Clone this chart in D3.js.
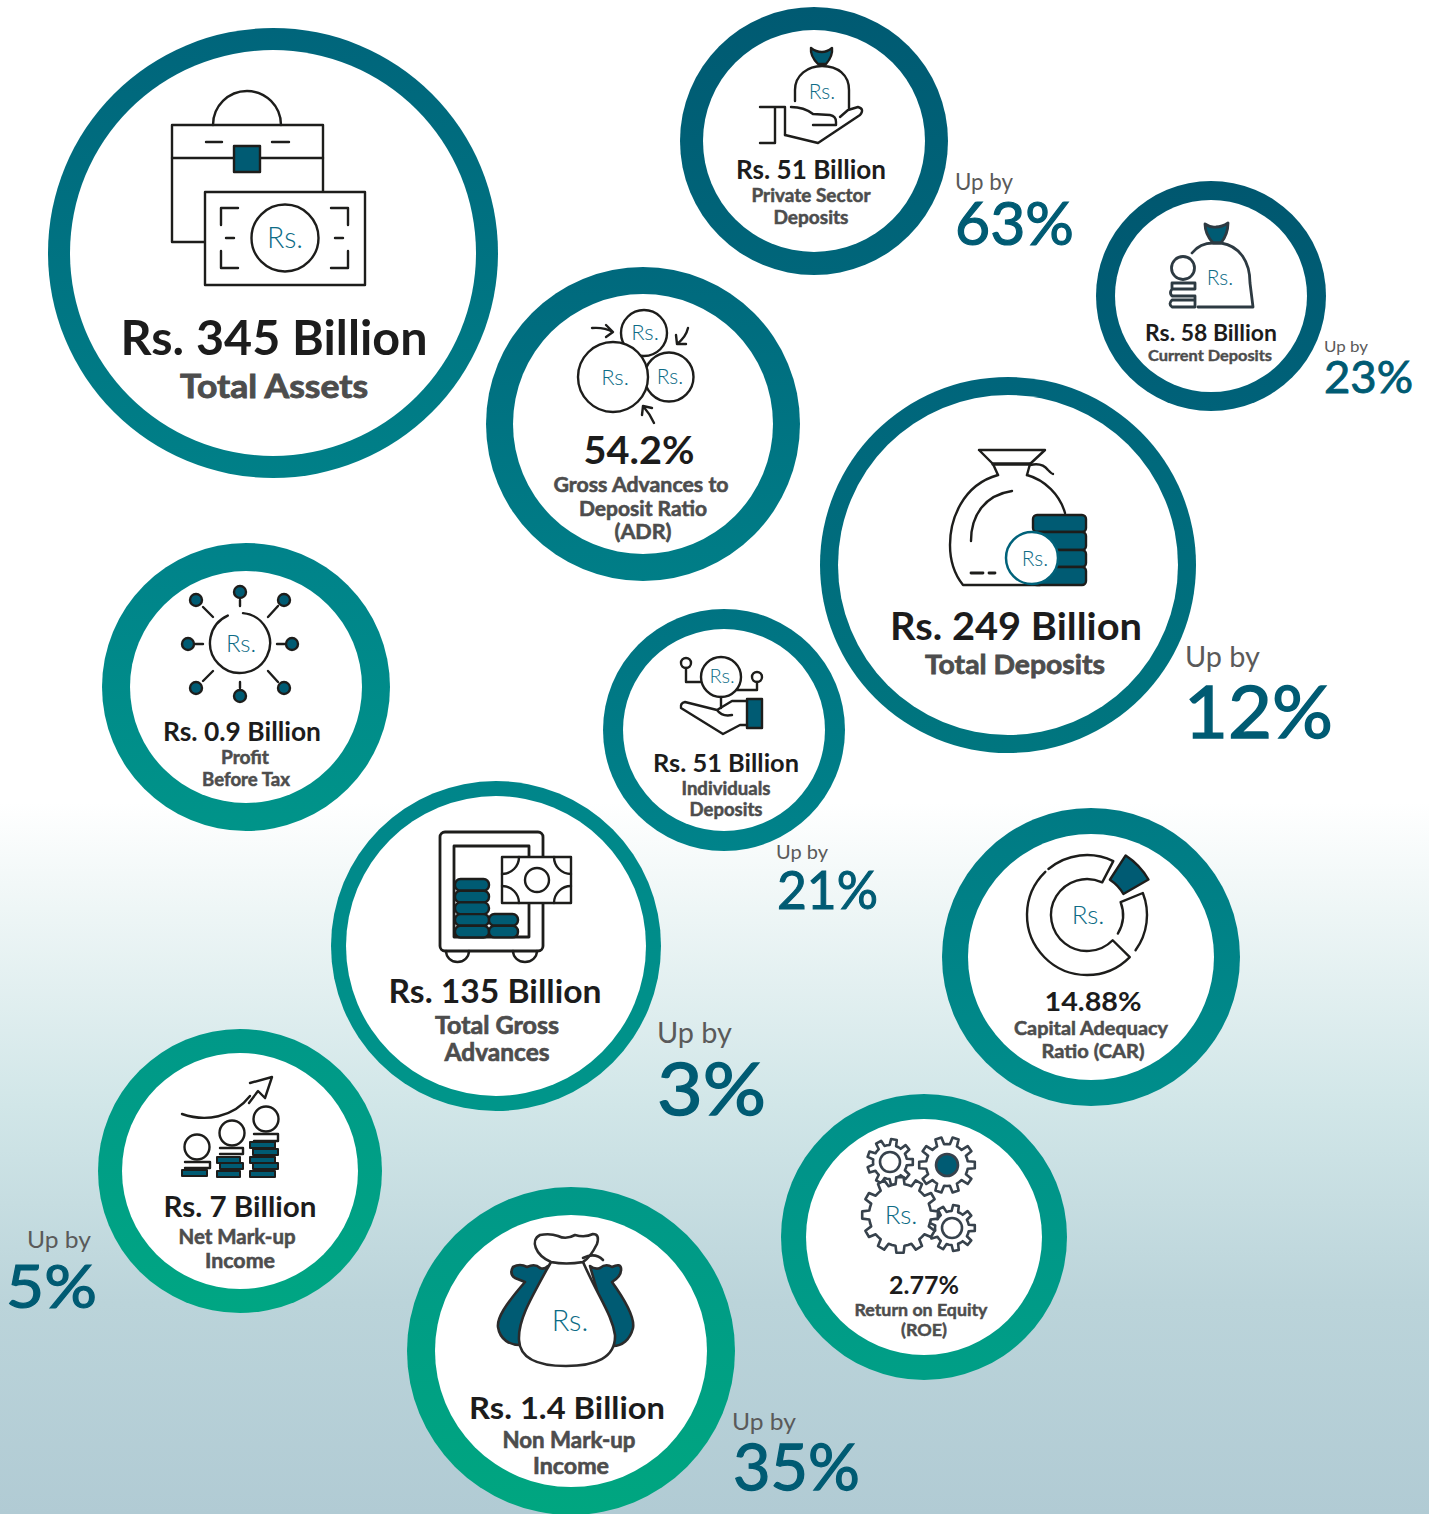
<!DOCTYPE html>
<html><head><meta charset="utf-8">
<script src="https://cdn.jsdelivr.net/npm/d3@7"></script>
<style>html,body{margin:0;padding:0;background:#fff}svg{display:block}text{font-family:Lato,"Noto Sans",sans-serif}</style>
</head><body><svg id="c" width="1429" height="1514" viewBox="0 0 1429 1514"></svg>
<script>
// ---- data ----
const metrics = ["Total Assets","Private Sector Deposits","Current Deposits","Gross Advances to Deposit Ratio (ADR)","Total Deposits","Profit Before Tax","Individuals Deposits","Total Gross Advances","Capital Adequacy Ratio (CAR)","Net Mark-up Income","Return on Equity (ROE)","Non Mark-up Income"];
const headlines = ["Rs. 345 Billion","Rs. 51 Billion","Rs. 58 Billion","54.2%","Rs. 249 Billion","Rs. 0.9 Billion","Rs. 51 Billion","Rs. 135 Billion","14.88%","Rs. 7 Billion","2.77%","Rs. 1.4 Billion"];
const captionLines = [["Total Assets"],["Private Sector","Deposits"],["Current Deposits"],["Gross Advances to","Deposit Ratio","(ADR)"],["Total Deposits"],["Profit","Before Tax"],["Individuals","Deposits"],["Total Gross","Advances"],["Capital Adequacy","Ratio (CAR)"],["Net Mark-up","Income"],["Return on Equity","(ROE)"],["Non Mark-up","Income"]];
const growth = ["", "63%", "23%", "", "12%", "", "21%", "3%", "", "5%", "", "35%"];
const upLabel = "Up by";
const currency = "Rs.";

// ---- layout (page placement, separate from the data) ----
const rings = [[273,253,225,203],[814,141,134,111],[1211,296,115,96],[643,424,157,130],[1008,565,188,170],[246,687,144,116],[724,730,121,101],[496,946,165,150],[1091,957,149,123],[240,1171,142,118],[924,1237,143,118],[571,1351,164,136]];
const ringColors = [["#00657b","#008088"],["#005a72","#00667a"],["#00576f","#006279"],["#00697d","#007e87"],["#00657b","#00767f"],["#00828a","#009489"],["#007382","#00838a"],["#00858a","#00968a"],["#007a84","#008e8b"],["#009888","#00a683"],["#00908a","#009f86"],["#009888","#00a680"]];
const headPos = [[274,355,48,307],[811,179,26,150],[1211,341,23,132],[639,464,38,111],[1016,640,38,252],[242,741,26,158],[726,772,25,146],[495,1003,33,213],[1093,1011,27,97],[240,1217,29,153],[924,1294,25,70],[567,1419,31,196]];
const capPos = [[[274,398,33,188]],[[811,202,18,119],[811,224,18,75]],[[1210,361,15,124]],[[641,492,20,175],[643,516,20,128],[643,539,20,57]],[[1015,674,27,180]],[[245,764,18,48],[246,786,18,88]],[[726,795,18,89],[726,816,18,73]],[[497,1034,24,124],[497,1061,24,105]],[[1091,1035,18.5,154],[1093,1058,18.5,103]],[[237,1244,20,117],[240,1268,20,70]],[[921,1316,17,133],[924,1336,17,46]],[[569,1448,22,133],[571,1474,22,76]]];
const growthPos = [null,[955,190,23,58,955,245,60,119],[1324,352,16,44,1324,393,44,89],null,[1185,667,29,75,1184,738,72,149],null,[776,859,20,52,777,909,52,101],[657,1043,28,75,657,1115,72,109],null,[27,1248,23,64,6,1308,60,91],null,[732,1430,24,64,733,1490,64,127]];
const rsPos = [[285,238,28.5],[822,92,21],[1220,278,21],[645,332,22],[615,377,22],[670,377,21],[1035,559,21],[241,644,24],[722,676,20],[1088,915,26],[901,1215,26],[570,1321,29]];

const DARK="#005b73", INK="#1d1d1b", RS="#0d6c86";
const svg = d3.select("#c");
const defs = svg.append("defs");

// background
const bg = defs.append("linearGradient").attr("id","bg").attr("x1",0).attr("y1",0).attr("x2",0).attr("y2",1);
[[0,"#fff"],[.53,"#fff"],[.6,"#eef6f6"],[.73,"#d1e6e8"],[.86,"#bbd4da"],[1,"#b1cbd4"]].forEach(s=>bg.append("stop").attr("offset",s[0]).attr("stop-color",s[1]));
svg.append("rect").attr("width",1429).attr("height",1514).attr("fill","url(#bg)");

// rings
rings.forEach((r,i)=>{
  const g = defs.append("linearGradient").attr("id","r"+i).attr("x1",0).attr("y1",0).attr("x2",0).attr("y2",1);
  g.append("stop").attr("offset",0).attr("stop-color",ringColors[i][0]);
  g.append("stop").attr("offset",1).attr("stop-color",ringColors[i][1]);
});
const ringG = svg.selectAll("g.ring").data(rings).join("g").attr("class","ring");
ringG.append("circle").attr("cx",d=>d[0]).attr("cy",d=>d[1]).attr("r",d=>d[2]).attr("fill",(d,i)=>`url(#r${i})`);
ringG.append("circle").attr("cx",d=>d[0]).attr("cy",d=>d[1]).attr("r",d=>d[3]).attr("fill","#fff");

// icon helpers
const ic = svg.append("g").attr("fill","none").attr("stroke",INK).attr("stroke-width",2.4).attr("stroke-linejoin","round").attr("stroke-linecap","round");
const P=(d,o={})=>{const e=ic.append("path").attr("d",d);Object.entries(o).forEach(([k,v])=>e.attr(k,v));return e;};
const C=(x,y,r,o={})=>{const e=ic.append("circle").attr("cx",x).attr("cy",y).attr("r",r);Object.entries(o).forEach(([k,v])=>e.attr(k,v));return e;};
const R=(x,y,w,h,o={})=>{const e=ic.append("rect").attr("x",x).attr("y",y).attr("width",w).attr("height",h);Object.entries(o).forEach(([k,v])=>e.attr(k,v));return e;};
const W={fill:"#fff"}, D={fill:DARK};

// 1 briefcase + banknote
P("M213,125 A34,34 0 0 1 281,125");
R(172,125,151,117);P("M172,158 H323");P("M206,142 H222 M272,142 H289");
R(234,146,26,26,D);
R(205,192,160,93,W);C(285,238,33.5);
P("M238,208 H221 V225 M331,208 H348 V225 M221,251 V268 H238 M348,251 V268 H331 M226,238 H234 M335,238 H343");

// 2 hand with bag
P("M811,48 Q816,52 822,52 Q827,52 832,48 Q833,56 826,64 H818 Q810,56 811,48 Z",D);
P("M795,101 V90 C795,75 808,66 822,66 C838,66 849,75 849,90 V108");
P("M760,107 H785 V135 M775,107 V143 H760");
P("M791,107 Q804,107 813,114 L830,115 Q836,116 836,122 V125 H813");
P("M785,135 L818,143 L860,115 Q865,109 858,107 L848,110 L840,117");

// 3 bag + coins
const i3={stroke:"#2d3a42","stroke-width":2.8};
P("M1205,224 Q1211,228 1216,227 Q1222,227 1228,223 Q1228,234 1221,243 H1213 Q1205,234 1205,224 Z",{...D,...i3});
P("M1192,253 Q1200,243 1213,243 H1221 C1240,246 1250,262 1250,283 L1253,307 H1198",i3);
C(1183,268,11.5,i3);
P("M1172,283 H1195 M1195,283 V289 H1172 Q1169,293 1172,296 H1195 M1195,296 V300 H1172 Q1168,304 1172,307 H1195 V300 M1172,289 V283",i3);

// 4 three circles with arrows
C(644,333,23,W);C(669,377,24.5,W);C(613,377,35,W);
P("M592,328 Q604,327 613,332 M606,325 L613,332 L606,337");
P("M688,328 Q686,337 677,344 M676,335 L677,344 L686,344");
P("M654,423 Q650,414 643,406 M642,415 L643,406 L652,408");

// 5 large bag + coins
P("M979,450 H1045 L1030,464 L1027,475 M979,450 L993,464 L998,475");
P("M993,464 H1030",{"stroke-width":3.5});
P("M1030,465 Q1042,462 1048,470 Q1052,474 1053,474");
P("M998,475 C962,485 950,520 950,545 C950,560 955,575 963,585 H1040 M1027,475 C1045,480 1060,495 1065,513");
P("M1012,491 C985,495 971,515 971,541");
P("M971,573 H983 M989,573 H995",{"stroke-width":2.8});
[[515,17],[532,18],[550,17],[567,18]].forEach(c=>R(1033,c[0],53,c[1],{...D,rx:4}));
C(1032,558,26,{fill:"#fff",stroke:"#00627a","stroke-width":2.5});

// 6 hub with eight satellites
const hub=d3.path();hub.arc(240,643,30,-Math.PI/2+0.1,-Math.PI/2-0.42+2*Math.PI);P(hub.toString());
const satellites=[[240,592,240,600,240,606],[284,600,278,606,268,617],[292,644,285,644,277,644],[284,688,278,682,268,671],[240,696,240,688,240,682],[196,688,203,681,213,671],[188,644,195,644,203,644],[196,600,203,607,213,617]];
satellites.forEach(s=>{P(`M${s[2]},${s[3]} L${s[4]},${s[5]}`);C(s[0],s[1],6,{...D});});

// 7 hand with coin
C(721,677,20);C(686,663,5);C(757,677,5);
P("M686,668 V682 H701 M757,682 V690 H737 M721,697 V708");
R(747,699,15,29,D);
P("M747,701 H732 L717,710 Q722,717 732,715 M717,710 L685,702 Q680,703 681,708 L723,734 L740,725 H747");

// 8 safe
R(440,832,103,119,{rx:5,"stroke-width":2.8});R(454,846,75,91,{"stroke-width":2.8});
P("M446,951 A11.5,11 0 0 0 469,951 M513,951 A12,11 0 0 0 537,951");
d3.range(5).forEach(k=>R(455,879+k*11.7,34,11.7,{...D,rx:5.5}));
d3.range(2).forEach(k=>R(489,914+k*11.7,29,11.7,{...D,rx:5.5}));
R(502,857,69,46,W);C(537,880,12);
P("M519,857 A17,17 0 0 1 502,874 M554,857 A17,17 0 0 0 571,874 M502,886 A17,17 0 0 1 519,903 M571,886 A17,17 0 0 0 554,903");

// 9 donut
const cx9=1087,cy9=915,ro=60,ri=36,rad=a=>(a-90)*Math.PI/180;
const pt=(r,a)=>[cx9+r*Math.cos(rad(a)),cy9+r*Math.sin(rad(a))];
let p9=d3.path();
p9.moveTo(...pt(ro,26));p9.arc(cx9,cy9,ro,rad(26),rad(-40),true);
p9.moveTo(...pt(ro,-44));p9.arc(cx9,cy9,ro,rad(-44),rad(134.5),true);
p9.lineTo(...pt(ri,134.5));p9.arc(cx9,cy9,ri,rad(134.5),rad(25),false);
p9.lineTo(...pt(ro,26));
p9.moveTo(...pt(ro,126));p9.arc(cx9,cy9,ro,rad(126),rad(68.5),true);
p9.lineTo(...pt(ri,69));p9.arc(cx9,cy9,ri,rad(69),rad(121),false);
P(p9.toString());
P(d3.arc()({innerRadius:42,outerRadius:71,startAngle:33*Math.PI/180,endAngle:60*Math.PI/180}),{...D,transform:`translate(${cx9},${cy9})`});

// 10 coins + rising arrow
P("M182,1114 C205,1122 233,1118 250,1096");
P("M250,1083 L272,1077 L265,1098 L258,1091 L249,1103");
C(197,1147,12.5);C(232,1133,12.5);C(266,1119,12.5);
P("M185,1162 H210 V1168 H185 M220,1148 H243 V1154 H220 M254,1134 H278 V1141 H254");
[[182,1170,25],[217,1157,23],[220,1163,23],[217,1171,23],[250,1142,25],[253,1149,25],[250,1157,25],[253,1163,25],[250,1171,25]].forEach(b=>R(b[0],b[1],b[2],6,{...D,"stroke-width":2}));

// 11 gears
function gear(x,y,n,ro,ri){
  const pts=[],step=2*Math.PI/n;
  d3.range(n).forEach(k=>{const a=k*step;
    [[ri,-.5],[ri,-.28],[ro,-.18],[ro,.18],[ri,.28]].forEach(q=>{const t=a+q[1]*step;pts.push([x+q[0]*Math.cos(t),y+q[0]*Math.sin(t)]);});});
  return "M"+pts.map(p=>p.map(v=>v.toFixed(1)).join(",")).join("L")+"Z";
}
const g11={stroke:"#37424c","stroke-width":2.6};
P(gear(890,1162,9,23,17),g11);C(890,1162,10,g11);
P(gear(947,1165,10,28,21),g11);C(947,1165,11,{...D,...g11});
P(gear(952,1228,9,23,17),g11);C(952,1228,10,g11);
P(gear(900,1215,12,38,31),{...W,...g11});

// 12 money bags
const k={stroke:"#2b2b2b","stroke-width":2.6};
P("M548,1266 Q544,1270 540,1268 Q535,1263 527,1267 Q520,1263 513,1267 Q509,1274 515,1278 L525,1282 C505,1305 497,1318 498,1327 C500,1340 510,1345 520,1345 Z",{...D,...k});
P("M590,1266 Q595,1270 600,1268 Q606,1263 612,1267 Q620,1263 621,1268 Q622,1276 612,1282 C625,1300 635,1317 633,1328 C630,1340 622,1346 613,1346 Z",{...D,...k});
P("M551,1262 C530,1300 518,1320 519,1340 C520,1362 545,1366 566,1366 C595,1366 616,1358 615,1335 C612,1315 600,1300 583,1262 Z",{...W,...k});
P("M551,1262 C535,1255 530,1240 540,1235 Q550,1233 558,1236 Q566,1240 575,1235 Q585,1238 593,1234 Q600,1234 597,1244 Q590,1258 583,1262 Q566,1265 551,1262 Z",{...W,...k});
P("M583,1258 Q595,1252 603,1260",k);

// text
const tg=svg.append("g");
function T(s,x,y,size,w,anchor,weight,fill,sw){
  const t=tg.append("text").attr("x",x).attr("y",y).attr("text-anchor",anchor).attr("font-size",size).attr("font-weight",weight).attr("fill",fill)
    .attr("textLength",w).attr("lengthAdjust","spacingAndGlyphs").text(s);
  if(sw) t.attr("stroke",fill).attr("stroke-width",sw);
}
rsPos.forEach(p=>tg.append("text").attr("x",p[0]).attr("y",p[1]).attr("dy",".35em").attr("text-anchor","middle").attr("font-size",p[2]).attr("font-weight",300).attr("fill",RS).text(currency));
headlines.forEach((s,i)=>{const p=headPos[i];T(s,p[0],p[1],p[2],p[3],"middle",700,"#1c1c1c");});
captionLines.forEach((ls,i)=>ls.forEach((s,j)=>{const p=capPos[i][j];T(s,p[0],p[1],p[2],p[3],"middle",700,"#4d4d4d",p[2]*0.028);}));
growth.forEach((s,i)=>{const p=growthPos[i];if(!p)return;
  T(upLabel,p[0],p[1],p[2],p[3],"start",400,"#5a5a5a");
  T(s,p[4],p[5],p[6],p[7],"start",400,DARK,p[6]*0.02);});
</script></body></html>
